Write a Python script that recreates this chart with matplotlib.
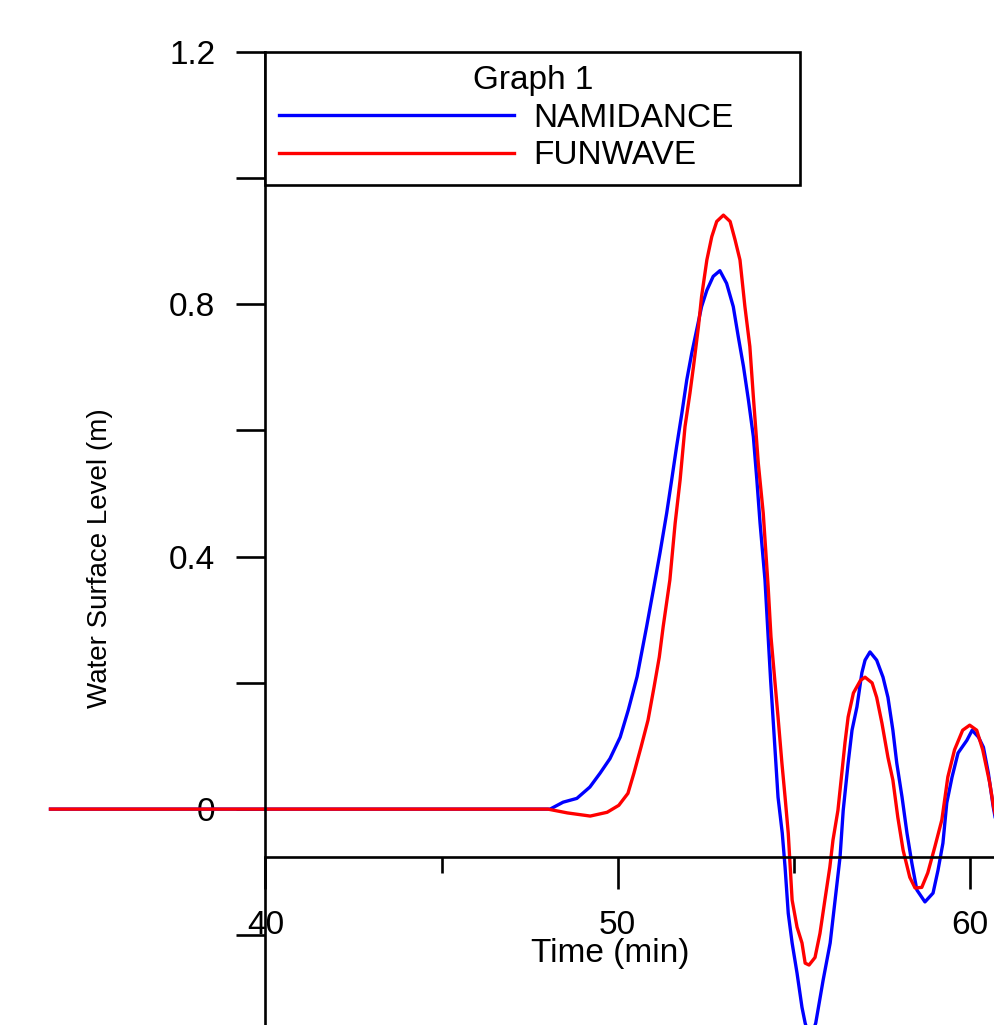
import matplotlib.pyplot as plt

plt.rcParams['font.family'] = ['Liberation Sans', 'DejaVu Sans']

# time (min) / water surface level (m)
namidance_t = [33.9, 48.08, 48.45, 48.84, 49.21, 49.50, 49.78, 50.07, 50.30, 50.55,
               50.82, 51.01, 51.20, 51.39, 51.53, 51.67, 51.82, 51.96, 52.10, 52.24,
               52.38, 52.53, 52.71, 52.90, 53.09, 53.28, 53.42, 53.57, 53.71, 53.85,
               53.95, 54.04, 54.18, 54.27, 54.34, 54.43, 54.55, 54.67, 54.75, 54.84,
               54.95, 55.09, 55.23, 55.32, 55.46, 55.62, 55.83, 56.03, 56.17, 56.31,
               56.40, 56.54, 56.65, 56.79, 56.93, 57.02, 57.16, 57.35, 57.53, 57.67,
               57.81, 57.92, 58.07, 58.21, 58.35, 58.49, 58.72, 58.95, 59.09, 59.23,
               59.34, 59.49, 59.66, 59.91, 60.06, 60.24, 60.38, 60.52, 60.66, 60.80]
namidance_eta = [0.0, 0.0, 0.011, 0.017, 0.035, 0.057, 0.080, 0.114, 0.157, 0.210,
                 0.289, 0.347, 0.406, 0.469, 0.521, 0.574, 0.627, 0.680, 0.722, 0.759,
                 0.796, 0.822, 0.844, 0.853, 0.833, 0.796, 0.749, 0.701, 0.648, 0.590,
                 0.521, 0.453, 0.363, 0.273, 0.204, 0.125, 0.019, -0.038, -0.092, -0.165,
                 -0.212, -0.260, -0.314, -0.339, -0.366, -0.339, -0.271, -0.212, -0.144, -0.076,
                 -0.002, 0.073, 0.125, 0.162, 0.216, 0.236, 0.249, 0.236, 0.209, 0.177,
                 0.125, 0.073, 0.019, -0.038, -0.086, -0.128, -0.147, -0.133, -0.097, -0.054,
                 0.010, 0.051, 0.089, 0.109, 0.125, 0.114, 0.098, 0.057, 0.003, -0.040]

funwave_t = [33.9, 48.02, 48.57, 49.22, 49.70, 50.03, 50.29, 50.46, 50.66, 50.86,
             51.03, 51.18, 51.29, 51.48, 51.63, 51.77, 51.91, 52.05, 52.15, 52.29,
             52.38, 52.53, 52.67, 52.81, 53.00, 53.19, 53.33, 53.47, 53.61, 53.75,
             53.85, 53.99, 54.13, 54.27, 54.35, 54.55, 54.66, 54.75, 54.84, 54.95,
             55.09, 55.23, 55.32, 55.43, 55.60, 55.74, 55.88, 56.02, 56.11, 56.25,
             56.37, 56.45, 56.54, 56.69, 56.89, 57.02, 57.22, 57.35, 57.50, 57.67,
             57.81, 57.95, 58.10, 58.29, 58.44, 58.63, 58.80, 59.00, 59.20, 59.37,
             59.56, 59.79, 59.99, 60.19, 60.36, 60.56, 60.67, 60.80]
funwave_eta = [0.0, 0.0, -0.006, -0.011, -0.005, 0.006, 0.025, 0.057, 0.098, 0.141,
               0.193, 0.241, 0.289, 0.363, 0.453, 0.521, 0.606, 0.659, 0.701, 0.764,
               0.812, 0.870, 0.907, 0.931, 0.941, 0.931, 0.902, 0.870, 0.796, 0.733,
               0.653, 0.548, 0.469, 0.352, 0.273, 0.146, 0.073, 0.019, -0.038, -0.144,
               -0.187, -0.212, -0.244, -0.247, -0.235, -0.197, -0.144, -0.092, -0.049, -0.002,
               0.062, 0.105, 0.146, 0.184, 0.204, 0.209, 0.200, 0.177, 0.136, 0.082,
               0.046, -0.013, -0.065, -0.108, -0.125, -0.124, -0.101, -0.060, -0.017, 0.051,
               0.094, 0.125, 0.133, 0.125, 0.094, 0.041, 0.003, -0.030]

x_major = [40, 50, 60]
x_minor = [45, 55]
y_major = [0, 0.4, 0.8, 1.2]
y_minor = [-0.2, 0.2, 0.6, 1.0]
y_labels = ['0', '0.4', '0.8', '1.2']

fig = plt.figure(figsize=(9.94, 10.25), dpi=100)
ax = fig.add_axes([0.267, 0.0, 0.733, 0.9496])

# lines run past the axes like in the original
ax.plot(namidance_t, namidance_eta, color='#0000ff', lw=2.4, clip_on=False, label='NAMIDANCE')
ax.plot(funwave_t, funwave_eta, color='#ff0000', lw=2.4, clip_on=False, label='FUNWAVE')

ax.set_xlim(40, 60.68)
ax.set_ylim(-0.342, 1.2)

ax.spines['top'].set_visible(False)
ax.spines['right'].set_visible(False)
ax.spines['bottom'].set_position(('data', -0.076))
ax.spines['left'].set_linewidth(1.9)
ax.spines['bottom'].set_linewidth(1.9)

ax.set_xticks(x_major, labels=[str(v) for v in x_major])
ax.set_xticks(x_minor, minor=True)
ax.set_yticks(y_major, labels=y_labels)
ax.set_yticks(y_minor, minor=True)

ax.tick_params(axis='x', which='major', direction='out', length=23, width=1.9, pad=15, labelsize=24)
ax.tick_params(axis='x', which='minor', direction='out', length=11.5, width=1.9)
ax.tick_params(axis='y', which='both', direction='out', length=21, width=1.9)
ax.tick_params(axis='y', which='major', pad=15, labelsize=24)

ax.set_xlabel('Time (min)', fontsize=24)
ax.xaxis.set_label_coords(0.473, 0.0647)
ax.xaxis.label.set_va('baseline')

ax.set_ylabel('Water Surface Level (m)', fontsize=20)
ax.yaxis.set_label_coords(-0.227, 0.48)
ax.yaxis.label.set_va('center')

# legend box stretched to the width of the original one
leg = ax.legend(title='Graph 1', loc='upper left', bbox_to_anchor=(0, 1, 0.734, 0),
                mode='expand', borderaxespad=0, fontsize=24, title_fontsize=24,
                handlelength=7.05, handletextpad=0.6, borderpad=0.4, labelspacing=0.2,
                fancybox=False, edgecolor='black', framealpha=1)
leg.get_frame().set_linewidth(1.9)

fig.savefig('out.png', dpi=100)
